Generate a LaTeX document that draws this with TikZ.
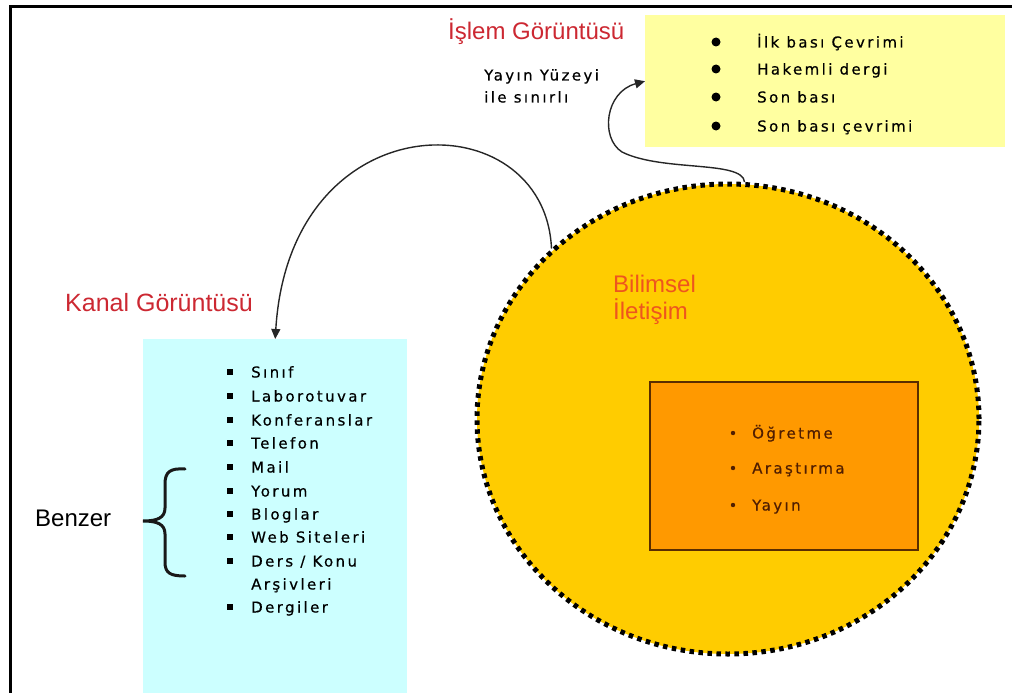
\documentclass[tikz,border=0pt]{standalone}
\usepackage{fontspec}
\setmainfont{Liberation Sans}
\newfontfamily\listfont[LetterSpace=16,FakeBold=0.5]{DejaVu Sans}
\usetikzlibrary{arrows.meta,shapes.geometric}

\definecolor{procyellow}{RGB}{255,255,160}
\definecolor{chancyan}{RGB}{204,255,255}
\definecolor{sciencegold}{RGB}{255,204,0}
\definecolor{coreorange}{RGB}{255,153,0}
\definecolor{coreedge}{RGB}{90,45,0}
\definecolor{coretext}{RGB}{80,30,0}
\definecolor{headred}{RGB}{204,40,50}
\definecolor{scienceorange}{RGB}{238,85,30}

\tikzset{
  hd/.style={inner sep=0pt, anchor=west, text height=17pt, text depth=0pt,
             font=\fontsize{24}{28}\selectfont},
  li/.style={inner sep=0pt, anchor=west, text height=11pt, text depth=0pt,
             font=\listfont\fontsize{15}{18}\selectfont},
  link/.style={line width=1.4pt, draw={black!85}, -{Triangle[length=10pt,width=9pt]}},
  frame/.style={line width=3pt},
  dotborder/.style={line width=5pt, dash pattern=on 4.5pt off 4.5pt},
}

\begin{document}
\begin{tikzpicture}[x=1pt,y=-1pt]
\useasboundingbox (0,0) rectangle (1012,693);

% page frame (top and left edges)
\draw[frame] (10,693) -- (10,7) -- (1012,7);

% process view box
\node[fill=procyellow, inner sep=0, minimum width=360pt, minimum height=132pt,
      anchor=north west] (proc) at (645,15) {};
\node[hd, text=headred] (islem) at (448,31) {İşlem Görüntüsü};
\node[li] (yuz1) at (484,75) {Yayın Yüzeyi};
\node[li] (yuz2) at (484,97) {ile sınırlı};
\foreach \y/\t [count=\i] in {42/İlk bası Çevrimi, 69/Hakemli dergi,
                              97/Son bası, 126/Son bası çevrimi} {
  \fill (716,\y) circle (4.5);
  \node[li] (p\i) at (757,\y) {\t};
}

% channel view box
\node[fill=chancyan, inner sep=0, minimum width=264pt, minimum height=355pt,
      anchor=north west] (chan) at (143,339) {};
\node[hd, text=headred, font=\fontsize{25}{29}\selectfont] (kanal) at (65,303) {Kanal Görüntüsü};
\foreach \y/\t/\b [count=\i] in {372/Sınıf/1, 396/Laborotuvar/1, 420/Konferanslar/1,
    443/Telefon/1, 467/Mail/1, 491/Yorum/1, 514/Bloglar/1, 537/Web Siteleri/1,
    561/{Ders / Konu}/1, 584/Arşivleri/0, 607/Dergiler/1} {
  \ifnum\b=1 \fill (227,\y-3) rectangle ++(6,6); \fi
  \node[li] (c\i) at (251,\y) {\t};
}

% similar items brace
\node[hd] (benzer) at (35,518) {Benzer};
\draw[line width=3pt, black!90, line cap=round]
  (185,469) .. controls (170,468) and (165,472) .. (165,484)
  -- (165,508) .. controls (165,518) and (157,521) .. (143,521)
  .. controls (157,521) and (165,524) .. (165,534)
  -- (165,562) .. controls (165,573) and (170,576) .. (185,576);

% scholarly communication circle
\node[ellipse, fill=sciencegold, draw, dotborder, inner sep=0,
      minimum width=502pt, minimum height=470pt] (circ) at (728,419) {};
\node[hd, text=scienceorange] (bil1) at (613,284) {Bilimsel};
\node[hd, text=scienceorange] (bil2) at (613,311) {İletişim};

% core activities
\node[fill=coreorange, draw=coreedge, line width=1.5pt, inner sep=0,
      minimum width=268pt, minimum height=168pt] (core) at (784,466) {};
\foreach \y/\t [count=\i] in {433/Öğretme, 468/Araştırma, 505/Yayın} {
  \fill[coretext] (733,\y) circle (2.2);
  \node[li, text=coretext] (k\i) at (752,\y) {\t};
}

% connectors
\coordinate (bend) at (622,152);
\draw[link] (circ.86) .. controls ++(-2,-22) and (662,172) .. (bend)
  .. controls (600,138) and (605,92) .. (proc.west);
\draw[link] (circ.136) .. controls (545,100) and (290,98) .. (chan.north);
\end{tikzpicture}
\end{document}
